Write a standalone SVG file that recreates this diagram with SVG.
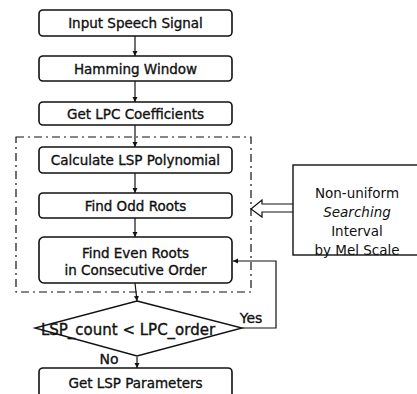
<svg xmlns="http://www.w3.org/2000/svg" width="417" height="394" viewBox="0 0 417 394">
<style>
.box{fill:#fff;stroke:#111;stroke-width:1.6}
.t{font-family:"DejaVu Sans",Verdana,sans-serif;font-size:13.5px;fill:#111;stroke:#111;stroke-width:0.35;text-anchor:middle;dominant-baseline:central}
.r{stroke:none}
.ln{fill:none;stroke:#111;stroke-width:1.2}
</style>
<defs>
<marker id="ah" markerWidth="6" markerHeight="6" refX="5" refY="3" orient="auto" markerUnits="userSpaceOnUse">
<path d="M0,0.5 L5,3 L0,5.5 Z" fill="#111"/>
</marker>
</defs>
<rect width="417" height="394" fill="#fff"/>
<g id="connectors">
<line class="ln" x1="135" y1="36" x2="135" y2="56" marker-end="url(#ah)"/>
<line class="ln" x1="135" y1="81" x2="135" y2="102" marker-end="url(#ah)"/>
<line class="ln" x1="135" y1="125" x2="135" y2="147" marker-end="url(#ah)"/>
<line class="ln" x1="135" y1="173" x2="135" y2="193" marker-end="url(#ah)"/>
<line class="ln" x1="135" y1="218" x2="135" y2="237" marker-end="url(#ah)"/>
<line class="ln" x1="135" y1="283" x2="137" y2="301" marker-end="url(#ah)"/>
<line class="ln" x1="137" y1="357" x2="137" y2="368" marker-end="url(#ah)"/>
<polyline class="ln" points="242,328 276,328 276,261 233,261" marker-end="url(#ah)"/>
<path d="M293,204 L262,204 L262,200 L251,209 L262,217 L262,212 L293,212" fill="#fff" stroke="#111" stroke-width="1.2"/>
</g>
<rect id="group" x="16" y="137" width="235" height="155" fill="none" stroke="#111" stroke-width="1.2" stroke-dasharray="8,4,2,4"/>
<g id="n1"><rect class="box" x="39" y="10" width="193" height="26" rx="4"/><text class="t" x="135.5" y="23">Input Speech Signal</text></g>
<g id="n2"><rect class="box" x="39" y="56" width="193" height="25" rx="4"/><text class="t" x="135.5" y="68.5">Hamming Window</text></g>
<g id="n3"><rect class="box" x="39" y="102" width="193" height="23" rx="4"/><text class="t" x="135.5" y="113.5">Get LPC Coefficients</text></g>
<g id="n4"><rect class="box" x="39" y="147" width="193" height="26" rx="4"/><text class="t" x="135.5" y="160">Calculate LSP Polynomial</text></g>
<g id="n5"><rect class="box" x="39" y="193" width="193" height="25" rx="4"/><text class="t" x="135.5" y="205.5">Find Odd Roots</text></g>
<g id="n6"><rect class="box" x="39" y="237" width="193" height="46" rx="5"/><text class="t" x="135.5" y="253">Find Even Roots</text><text class="t" x="135.5" y="270">in Consecutive Order</text></g>
<g id="n7"><polygon points="137,301 242,328 137,356 35,328" fill="#fff" stroke="#111" stroke-width="1.4"/><text class="t" x="128" y="330" style="font-size:15px">LSP_count &lt; LPC_order</text></g>
<g id="n8"><rect class="box" x="39" y="368" width="193" height="30" rx="4"/><text class="t" x="135.5" y="383">Get LSP Parameters</text></g>
<text class="t" x="251" y="318" style="font-size:14px">Yes</text>
<text class="t" x="109" y="359" style="font-size:14px">No</text>
<g id="n9"><rect x="293" y="165" width="130" height="90" fill="#fff" stroke="#111" stroke-width="1.4"/>
<text class="t r" x="357" y="193">Non-uniform</text>
<text class="t r" x="357" y="212" font-style="italic">Searching</text>
<text class="t r" x="357" y="231">Interval</text>
<text class="t r" x="357" y="250">by Mel Scale</text></g>
</svg>
